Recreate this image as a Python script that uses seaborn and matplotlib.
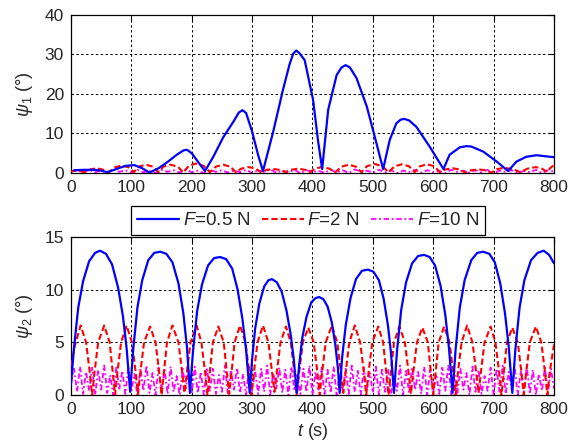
import numpy as np
import matplotlib
matplotlib.use('Agg')
import matplotlib.pyplot as plt
import seaborn as sns

# ---- data ----
# top panel, psi_1
blue1_t = [5, 20, 40, 50, 60, 75, 90, 105, 118, 130, 145, 160, 175, 186, 192, 200, 212, 222,
           236, 252, 269, 278, 284, 290, 300, 310, 318, 335, 351, 362, 368, 373, 378, 387, 401, 409, 416,
           426, 440, 448, 455, 462, 473, 490, 506, 517, 528, 539, 546, 552, 560, 572, 594, 617, 627, 644,
           655, 663, 683, 705, 724, 738, 754, 771, 788, 800]
blue1_v = [0.7, 0.8, 0.8, 0.6, 0.2, 1.0, 1.8, 2.0, 1.2, 0.1, 1.2, 2.8, 4.6, 5.7, 5.9, 5.0, 2.5, 0.5,
           4.2, 9.0, 13.0, 15.3, 15.9, 15.2, 10.5, 4.5, 0.5, 10.5, 21.0, 27.5, 30.2, 31.0, 30.4, 28.6, 18.5, 8.4, 1.0,
           16.0, 24.8, 26.7, 27.3, 26.7, 24.0, 16.8, 7.5, 1.0, 8.4, 12.6, 13.5, 13.7, 13.3, 11.7, 6.7, 1.0, 4.6, 6.5,
           6.8, 6.7, 5.4, 2.9, 0.5, 2.9, 4.1, 4.5, 4.2, 4.0]

red1_t = [0, 10, 22, 32, 42, 52, 63, 72, 84, 96, 104, 112, 124, 136, 145, 153, 165, 177, 186,
          195, 207, 220, 230, 240, 252, 264, 273, 282, 294, 306, 315, 324, 335, 346, 355,
          364, 376, 388, 396, 404, 415, 428, 438, 448, 460, 472, 481, 490, 503, 516, 526,
          536, 548, 560, 569, 578, 590, 602, 611, 620, 632, 644, 653, 663, 675, 687, 696,
          706, 718, 732, 744, 756, 770, 780, 788, 795, 800]
red1_v = [0.4, 0.7, 0.2, 0.9, 1.2, 0.9, 0.2, 1.4, 1.9, 1.4, 0.2, 1.6, 2.1, 1.6, 0.2, 1.6, 2.1, 1.6, 0.1,
          1.8, 2.4, 1.8, 0.2, 1.6, 2.1, 1.6, 0.2, 1.1, 1.5, 1.1, 0.1, 0.8, 1.0, 0.8, 0.2,
          0.8, 1.1, 0.8, 0.2, 1.1, 1.5, 1.1, 0.2, 1.6, 2.1, 1.6, 0.2, 1.7, 2.3, 1.7, 0.2,
          1.7, 2.2, 1.7, 0.2, 1.7, 2.2, 1.7, 0.2, 0.9, 1.2, 0.9, 0.1, 0.7, 0.9, 0.7, 0.1,
          1.0, 1.3, 1.0, 0.2, 1.1, 1.5, 1.1, 0.3, 1.4, 2.0]

mag1_t = np.arange(0, 801, 10)
mag1_v = [0.3, 0.7, 0.1, 0.8, 0.2, 0.6, 0.0, 0.9, 0.3, 0.7,
          0.1, 0.8, 0.2, 0.5, 0.0, 0.8, 0.3, 0.7, 0.1, 0.9,
          0.2, 0.6, 0.0, 0.8, 0.3, 0.7, 0.1, 0.6, 0.2, 0.8,
          0.0, 0.7, 0.3, 0.9, 0.1, 0.6, 0.2, 0.8, 0.0, 0.7,
          0.3, 0.5, 0.1, 0.8, 0.2, 0.7, 0.0, 0.9, 0.3, 0.6,
          0.1, 0.8, 0.2, 0.7, 0.0, 0.6, 0.3, 0.8, 0.1, 0.7,
          0.2, 0.5, 0.0, 0.8, 0.3, 0.6, 0.1, 0.7, 0.2, 0.8,
          0.0, 0.6, 0.3, 0.7, 0.1, 0.5, 0.2, 0.8, 0.0, 0.7,
          0.4]

# bottom panel, psi_2
blue2_t = [0, 5, 12, 20, 30, 40, 48, 58, 68, 78, 86, 92, 98,
           103, 110, 118, 128, 138, 148, 158, 168, 178, 186, 192, 197,
           202, 209, 217, 227, 237, 247, 257, 267, 276, 284, 290, 296,
           300, 305, 312, 320, 327, 333, 341, 349, 357, 364, 369, 374,
           378, 383, 390, 398, 405, 411, 418, 425, 432, 438, 442, 445,
           449, 455, 463, 472, 482, 492, 501, 510, 518, 525, 530, 535,
           540, 547, 555, 565, 575, 585, 594, 603, 612, 620, 626, 632,
           637, 644, 652, 663, 673, 683, 693, 702, 711, 719, 725, 731,
           736, 743, 751, 762, 773, 783, 792, 800]
blue2_v = [1.0, 4.5, 8.3, 10.8, 12.7, 13.5, 13.7, 13.4, 12.4, 10.2, 7.5, 4.5, 0.3,
           4.3, 8.3, 10.9, 12.8, 13.5, 13.6, 13.4, 12.6, 10.6, 7.8, 4.6, 0.2,
           4.1, 8.0, 10.5, 12.3, 13.0, 13.1, 12.9, 12.0, 10.0, 7.2, 4.3, 0.2,
           3.4, 6.3, 8.7, 10.3, 10.9, 11.0, 10.7, 9.8, 8.0, 5.7, 3.4, 0.2,
           2.9, 5.4, 7.4, 8.8, 9.2, 9.3, 9.1, 8.4, 6.9, 4.7, 2.6, 0.2,
           3.5, 6.6, 9.2, 11.0, 11.8, 11.9, 11.7, 10.9, 9.1, 6.6, 4.0, 0.2,
           4.2, 8.1, 10.7, 12.5, 13.2, 13.3, 13.1, 12.3, 10.4, 7.6, 4.5, 0.2,
           4.3, 8.3, 10.9, 12.8, 13.5, 13.6, 13.4, 12.6, 10.6, 7.7, 4.6, 0.2,
           4.3, 8.3, 10.9, 12.8, 13.5, 13.7, 13.3, 12.5]

red2_t = [0, 6, 16, 25, 31, 35,
          39, 45, 55, 64, 69, 73, 77, 83, 92, 101, 107, 111,
          115, 121, 131, 140, 146, 150, 154, 159, 168, 178, 184, 188,
          192, 198, 208, 216, 222, 226, 230, 235, 244, 253, 258, 262,
          266, 271, 280, 289, 295, 299, 303, 309, 318, 327, 333, 337,
          341, 347, 356, 364, 370, 374, 378, 384, 393, 402, 408, 412,
          416, 422, 432, 441, 447, 451, 455, 461, 470, 479, 485, 489,
          493, 499, 509, 517, 522, 526, 530, 535, 544, 553, 559, 563,
          567, 573, 582, 591, 596, 600, 604, 609, 618, 627, 633, 637,
          641, 647, 656, 665, 671, 675, 679, 685, 695, 703, 709, 713,
          717, 722, 731, 740, 746, 750, 754, 760, 770, 779, 785, 789,
          793, 800]
red2_v = [2.7, 4.6, 6.6, 5.0, 2.2, 0.0,
          2.2, 5.0, 6.6, 5.0, 2.2, 0.0, 2.2, 5.0, 6.6, 5.0, 2.2, 0.1,
          2.2, 5.0, 6.5, 5.0, 2.2, 0.0, 2.2, 5.0, 6.6, 5.0, 2.2, 0.2,
          2.2, 5.0, 6.6, 5.0, 2.2, 0.0, 2.2, 5.0, 6.5, 5.0, 2.2, 0.1,
          2.2, 5.0, 6.6, 5.0, 2.2, 0.0, 2.2, 5.0, 6.6, 5.0, 2.2, 0.3,
          2.2, 5.0, 6.5, 5.0, 2.2, 0.0, 2.2, 5.0, 6.4, 5.0, 2.2, 0.0,
          2.2, 5.0, 6.6, 5.0, 2.2, 0.2, 2.2, 5.0, 6.6, 5.0, 2.2, 0.0,
          2.2, 5.0, 6.5, 5.0, 2.2, 0.0, 2.2, 5.0, 6.5, 5.0, 2.2, 0.1,
          2.2, 5.0, 6.4, 5.0, 2.2, 0.0, 2.2, 5.0, 6.5, 5.0, 2.2, 0.0,
          2.2, 5.0, 6.6, 5.0, 2.2, 0.2, 2.2, 5.0, 6.5, 5.0, 2.2, 0.0,
          2.2, 5.0, 6.4, 5.0, 2.2, 0.0, 2.2, 5.0, 6.5, 5.0, 2.2, 0.0,
          2.2, 4.8]

mag2_t = np.arange(0, 801, 5)
mag2_v = [1.2, 2.5, 0.3, 2.7, 0.1, 2.2, 0.4, 2.6, 0.0, 2.4,
          0.5, 2.8, 0.2, 1.9, 0.0, 2.6, 0.6, 2.3, 0.1, 2.7,
          0.3, 2.0, 0.0, 2.5, 0.4, 2.8, 0.2, 2.1, 0.0, 2.6,
          0.5, 2.4, 0.1, 2.7, 0.3, 1.8, 0.0, 2.5, 0.6, 2.3,
          0.1, 2.7, 0.2, 2.2, 0.0, 2.6, 0.4, 2.5, 0.1, 1.9,
          0.3, 2.8, 0.0, 2.4, 0.5, 2.6, 0.2, 2.0, 0.0, 2.7,
          0.4, 2.3, 0.1, 2.5, 0.3, 2.8, 0.0, 2.1, 0.6, 2.6,
          0.2, 2.4, 0.0, 2.7, 0.4, 1.9, 0.1, 2.5, 0.3, 2.8,
          0.0, 2.2, 0.5, 2.6, 0.1, 2.4, 0.2, 2.7, 0.0, 2.0,
          0.4, 2.5, 0.1, 2.8, 0.3, 2.3, 0.0, 2.6, 0.5, 2.1,
          0.2, 2.7, 0.0, 2.4, 0.3, 2.5, 0.1, 1.9, 0.4, 2.8,
          0.0, 2.3, 0.2, 2.6, 0.5, 2.2, 0.1, 2.7, 0.0, 2.4,
          0.3, 2.0, 0.1, 2.6, 0.4, 2.8, 0.0, 2.3, 0.2, 2.5,
          0.5, 2.1, 0.0, 2.7, 0.3, 2.4, 0.1, 1.8, 0.4, 2.6,
          0.0, 2.5, 0.2, 2.8, 0.1, 2.2, 0.5, 2.6, 0.0, 2.3,
          0.3, 2.7, 0.1, 2.4, 0.0, 2.0, 0.4, 2.6, 0.2, 2.5,
          0.6]

labels = [r'$F$=0.5 N', r'$F$=2 N', r'$F$=10 N']
x_ticks = [0, 100, 200, 300, 400, 500, 600, 700, 800]

# ---- style ----
sns.set_style("white")
plt.rcParams['font.family'] = ['Liberation Sans', 'DejaVu Sans']
plt.rcParams['mathtext.fontset'] = 'custom'
plt.rcParams['mathtext.rm'] = 'Liberation Sans'
plt.rcParams['mathtext.it'] = 'Liberation Sans:italic'

blue = '#0000FF'
red = '#FF0000'
magenta = '#FF00FF'
dash = (0, (3, 1.5))
dashdot = (0, (3, 1.5, 1, 1.5))

fig = plt.figure(figsize=(5.81, 4.46), dpi=100)
ax1 = fig.add_axes([0.1222, 0.6121, 0.8313, 0.3543])
ax2 = fig.add_axes([0.1222, 0.1143, 0.8313, 0.3543])

# top panel
sns.lineplot(x=blue1_t, y=blue1_v, ax=ax1, color=blue, linewidth=1.6, zorder=4)
sns.lineplot(x=red1_t, y=red1_v, ax=ax1, color=red, linewidth=1.5, linestyle=dash, zorder=3)
sns.lineplot(x=mag1_t, y=mag1_v, ax=ax1, color=magenta, linewidth=1.3, linestyle=dashdot, zorder=2)

# bottom panel
sns.lineplot(x=blue2_t, y=blue2_v, ax=ax2, color=blue, linewidth=1.6, zorder=4, label=labels[0])
sns.lineplot(x=red2_t, y=red2_v, ax=ax2, color=red, linewidth=1.5, linestyle=dash, zorder=3, label=labels[1])
sns.lineplot(x=mag2_t, y=mag2_v, ax=ax2, color=magenta, linewidth=1.3, linestyle=dashdot, zorder=2, label=labels[2])

for ax in (ax1, ax2):
    ax.set_xlim(0, 800)
    ax.set_xticks(x_ticks)
    ax.grid(True, color='black', linestyle=(0, (2.5, 2.5)), linewidth=0.7)
    ax.set_axisbelow(True)
    ax.tick_params(direction='in', length=4, labelsize=12.5, top=True, right=True,
                   color='black', pad=5)
    for s in ax.spines.values():
        s.set_color('black')
        s.set_linewidth(0.9)

ax1.set_ylim(0, 40)
ax1.set_yticks([0, 10, 20, 30, 40])
ax1.set_ylabel(r'$\psi_1$ (°)', fontsize=13, labelpad=7)

ax2.set_ylim(0, 15)
ax2.set_yticks([0, 5, 10, 15])
ax2.set_ylabel(r'$\psi_2$ (°)', fontsize=13, labelpad=7)
ax2.set_xlabel(r'$t$ (s)', fontsize=13, labelpad=3)

# legend sits across the top edge of the lower panel
handles, labs = ax2.get_legend_handles_labels()
ax2.get_legend().remove()
leg = fig.legend(handles, labs, loc='center', bbox_to_anchor=(0.530, 0.5056), ncol=3,
                 fontsize=13.5, handlelength=2.25, handletextpad=0.2, columnspacing=0.6,
                 borderpad=0.3, fancybox=False, framealpha=1, edgecolor='black')
leg.get_frame().set_linewidth(0.9)

fig.savefig('out.png', dpi=100)
